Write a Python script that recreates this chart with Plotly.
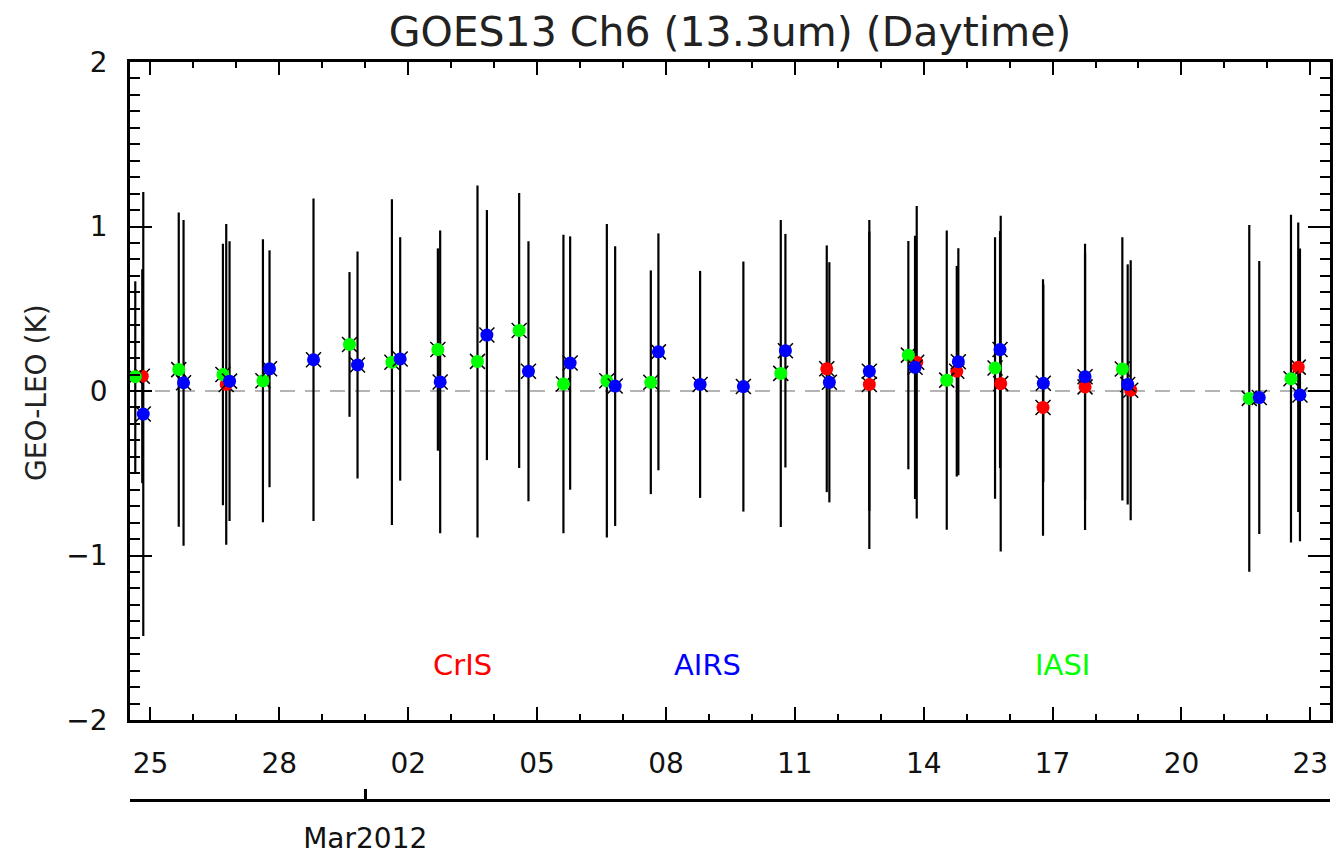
import plotly.graph_objects as go

# ---------------- data ----------------
cris_t = ["2012-02-24 19:26", "2012-02-26 18:21", "2012-03-11 17:51", "2012-03-12 17:38",
          "2012-03-13 20:07", "2012-03-14 18:29", "2012-03-15 19:02", "2012-03-16 18:40",
          "2012-03-17 18:09", "2012-03-18 19:39", "2012-03-22 17:15"]
cris_y = [0.09, 0.04, 0.135, 0.04, 0.175, 0.12, 0.045, -0.10, 0.025, 0.005, 0.145]
cris_e = [0.65, 0.975, 0.75, 1.00, 0.95, 0.64, 1.02, 0.78, 0.87, 0.79, 0.88]

airs_t = ["2012-02-24 20:00", "2012-02-25 18:30", "2012-02-26 20:12", "2012-02-27 18:32",
          "2012-02-28 19:06", "2012-02-29 19:42", "2012-03-01 19:32", "2012-03-02 17:52",
          "2012-03-03 19:58", "2012-03-04 19:12", "2012-03-05 18:29", "2012-03-06 19:38",
          "2012-03-07 19:48", "2012-03-08 19:06", "2012-03-09 19:16", "2012-03-10 18:45",
          "2012-03-11 19:18", "2012-03-12 17:38", "2012-03-13 19:10", "2012-03-14 19:22",
          "2012-03-15 18:39", "2012-03-16 18:50", "2012-03-17 18:09", "2012-03-18 17:58",
          "2012-03-21 19:29", "2012-03-22 18:13"]
airs_y = [-0.14, 0.05, 0.06, 0.135, 0.19, 0.158, 0.195, 0.055, 0.34, 0.12, 0.17, 0.03,
          0.238, 0.04, 0.027, 0.245, 0.053, 0.12, 0.144, 0.178, 0.252, 0.047, 0.087,
          0.04, -0.04, -0.024]
airs_e = [1.35, 0.99, 0.85, 0.72, 0.98, 0.69, 0.74, 0.92, 0.76, 0.79, 0.77, 0.85,
          0.72, 0.69, 0.76, 0.71, 0.73, 0.85, 0.80, 0.69, 0.72, 0.60, 0.75, 0.73,
          0.83, 0.89]

iasi_t = ["2012-02-24 15:32", "2012-02-25 15:49", "2012-02-26 16:30", "2012-02-27 14:51",
          "2012-02-29 15:13", "2012-03-01 14:54", "2012-03-02 16:35", "2012-03-03 14:43",
          "2012-03-04 14:00", "2012-03-05 14:44", "2012-03-06 14:59", "2012-03-07 15:33",
          "2012-03-10 16:10", "2012-03-13 15:26", "2012-03-14 12:53", "2012-03-15 15:52",
          "2012-03-18 14:59", "2012-03-21 13:54", "2012-03-22 13:12"]
iasi_y = [0.087, 0.13, 0.10, 0.062, 0.283, 0.175, 0.252, 0.18, 0.368, 0.043, 0.062,
          0.053, 0.107, 0.218, 0.066, 0.14, 0.134, -0.045, 0.075]
iasi_e = [0.58, 0.955, 0.795, 0.86, 0.44, 0.99, 0.615, 1.07, 0.836, 0.907, 0.953,
          0.68, 0.933, 0.694, 0.909, 0.795, 0.80, 1.054, 0.996]

series_names = ["CrIS", "IASI", "AIRS"]
series_colors = ["#ff0000", "#00ff00", "#0000ff"]
series_t = [cris_t, iasi_t, airs_t]
series_y = [cris_y, iasi_y, airs_y]
series_e = [cris_e, iasi_e, airs_e]

x_range = ["2012-02-24 12:35", "2012-03-23 11:00"]
y_range = [-2, 2]
month_tick = ["2012-03-01"]
month_label = ["Mar2012"]

title_text = "GOES13 Ch6 (13.3um) (Daytime)"
y_title = "GEO-LEO (K)"

FONT = "DejaVu Sans"
DAY = 86400000

fig = go.Figure()

# error bars (below markers)
for t, y, e in zip(series_t, series_y, series_e):
    fig.add_trace(go.Scatter(
        x=t, y=y, mode="markers",
        marker=dict(size=1, opacity=0),
        error_y=dict(type="data", array=e, symmetric=True, color="black",
                     thickness=2.2, width=0),
        showlegend=False, hoverinfo="skip"))

# markers: black X behind coloured dot
for name, col, t, y in zip(series_names, series_colors, series_t, series_y):
    fig.add_trace(go.Scatter(
        x=t, y=y, mode="markers",
        marker=dict(symbol="x-thin", size=15, line=dict(color="black", width=1.5)),
        showlegend=False, hoverinfo="skip"))
    fig.add_trace(go.Scatter(
        x=t, y=y, mode="markers", name=name,
        marker=dict(symbol="circle", size=13, color=col, line=dict(width=0)),
        showlegend=False))

# dummy trace so the month axis is drawn
fig.add_trace(go.Scatter(x=month_tick, y=[None], xaxis="x2", yaxis="y",
                         mode="markers", showlegend=False, hoverinfo="skip"))

fig.add_hline(y=0, line=dict(color="#b4b4b4", width=2, dash="15px,10px"), layer="below")

tickfont = dict(family=FONT, size=28, color="#111111")

fig.update_layout(
    width=1337, height=856,
    margin=dict(l=130, r=7, t=62, b=56, autoexpand=False),
    paper_bgcolor="white", plot_bgcolor="white",
    font=dict(family=FONT, color="black"),
    title=dict(text=title_text, x=0.5, xref="paper", xanchor="center",
               y=1 - 32 / 856, yref="container", yanchor="middle",
               font=dict(family=FONT, size=41, color="#222222")),
    xaxis=dict(
        type="date", range=x_range, anchor="y", automargin=False,
        showline=True, linecolor="black", linewidth=2.5, mirror="ticks",
        showgrid=False, zeroline=False,
        ticks="inside", ticklen=13, tickwidth=2, tickcolor="black",
        tick0="2012-02-25", dtick=3 * DAY, tickformat="%d",
        tickfont=tickfont, ticklabelstandoff=17,
        minor=dict(ticks="inside", ticklen=6, tickwidth=2, tickcolor="black",
                   tick0="2012-02-25", dtick=DAY, showgrid=False),
    ),
    xaxis2=dict(
        type="date", range=x_range, overlaying="x", anchor="free", position=0,
        side="bottom", automargin=False,
        showline=True, linecolor="black", linewidth=3,
        showgrid=False, zeroline=False,
        ticks="inside", ticklen=10, tickwidth=2.5, tickcolor="black",
        tickmode="array", tickvals=month_tick, ticktext=month_label,
        tickfont=tickfont, ticklabelstandoff=12,
    ),
    yaxis=dict(
        range=y_range, domain=[(800 - 720) / 738, 1], automargin=False,
        showline=True, linecolor="black", linewidth=2.5, mirror="ticks",
        showgrid=False, zeroline=False,
        ticks="inside", ticklen=22, tickwidth=2, tickcolor="black",
        dtick=1, tickfont=tickfont, ticklabelstandoff=14,
        minor=dict(ticks="inside", ticklen=10, tickwidth=2, tickcolor="black",
                   dtick=0.1, showgrid=False),
    ),
)

# y-axis title
fig.add_annotation(text=y_title, xref="paper", yref="paper",
                   x=(36 - 130) / 1200, y=(800 - 393) / 738,
                   xanchor="center", yanchor="middle", textangle=-90,
                   showarrow=False, font=dict(family=FONT, size=28, color="#222222"))

# series labels
label_x = [(462 - 130) / 1200, (707 - 130) / 1200, (1062 - 130) / 1200]
label_names = ["CrIS", "AIRS", "IASI"]
label_cols = ["#ff0000", "#0000ff", "#00ff00"]
for lx, ln, lc in zip(label_x, label_names, label_cols):
    fig.add_annotation(text=ln, xref="paper", yref="paper", x=lx, y=(800 - 665) / 738,
                       xanchor="center", yanchor="middle", showarrow=False,
                       font=dict(family=FONT, size=29, color=lc))

fig.write_html("out.html")
